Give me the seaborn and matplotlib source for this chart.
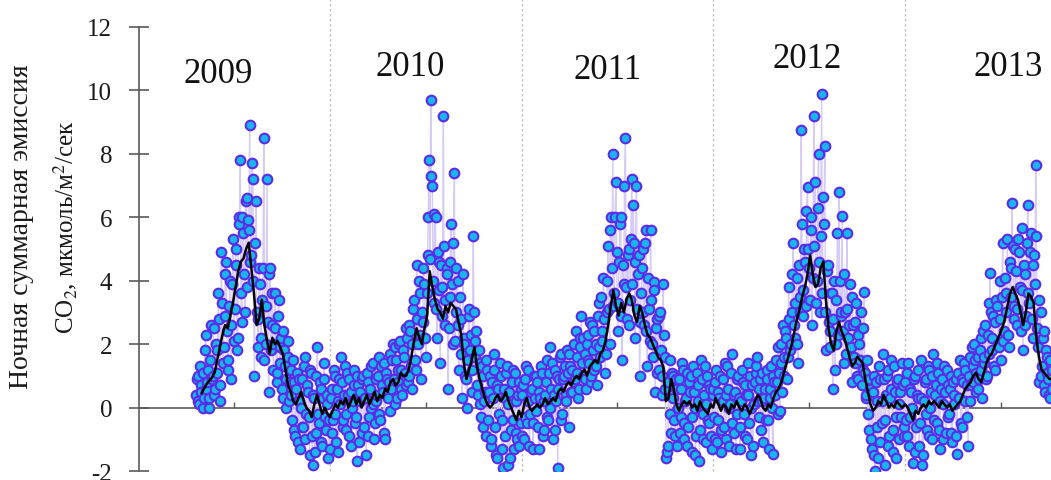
import matplotlib
matplotlib.use("Agg")
import numpy as np
import pandas as pd
import seaborn as sns
import matplotlib.pyplot as plt

# ---------------- data ----------------
# nightly CO2 emission; two interleaved sets per year, each one value every 3 days
start_2009 = "2009-04-21"
emis_2009 = [0.4, 1.0, 0.1, 0.7, 1.1, 0.3, 2.3, 0.8, 0.0, 1.5,
             0.9, 2.5, 0.6, 1.8, 3.6, 0.2, 4.9, 1.4, 2.9, 4.6,
             1.2, 3.2, 0.9, 3.9, 2.1, 5.0, 1.8, 6.0, 7.8, 2.7,
             5.5, 3.0, 6.6, 5.9, 8.9, 4.8, 7.2, 1.0, 6.5, 2.8,
             4.4, 1.6, 3.4, 8.5, 2.0, 7.2, 0.5, 4.4, 2.6, 1.2,
             3.6, 0.8, 2.9, 1.4, 2.2, 0.3, 1.8, 0.9, 2.1, 0.2,
             1.2, -0.4, 0.8, -0.9, 1.1, 0.2, -1.3, 0.9, -0.6, 1.6,
             -0.2, 0.5, -1.5, 1.1, -1.8, 0.3, -0.8, 1.9, -0.5, 0.6,
             -1.2, 0.9, -0.3, 0.4, -1.6]
start_2009b = "2009-04-22"
emis_2009b = [0.9, 0.2, 1.3, 0.5, 0.0, 1.8, 0.6, 1.2, 0.3, 2.6,
              1.0, 0.4, 2.0, 1.1, 2.8, 0.7, 3.3, 1.9, 4.2, 2.4,
              1.5, 4.0, 2.6, 5.3, 3.1, 4.5, 2.2, 5.8, 3.6, 6.0,
              4.2, 6.5, 3.8, 5.6, 4.6, 7.7, 4.0, 5.2, 3.0, 1.9,
              3.9, 2.2, 4.4, 1.5, 3.2, 2.7, 4.2, 1.8, 3.6, 2.0,
              2.5, 1.1, 3.4, 1.9, 0.6, 2.4, 1.3, 0.0, 1.6, 0.8,
              0.4, 1.5, -0.7, 0.6, -1.1, 0.9, 0.0, -0.6, 1.3, -1.0,
              0.7, -0.3, 1.2, -0.9, 0.4, -1.4, 1.0, -0.2, 0.8, -1.1,
              0.3, 1.4, -0.7, 0.1, -0.4]
start_2010 = "2010-01-01"
emis_2010 = [-1.3, 0.6, -0.4, 1.0, -1.1, 0.2, 0.9, 1.6, -0.6, 0.4,
             -0.2, 1.1, -0.9, 0.5, 0.0, 1.2, -0.5, -1.7, 0.7, 0.2,
             -0.8, 1.0, 0.3, -1.5, 0.8, -0.3, 1.3, 0.1, -1.0, 0.9,
             0.4, 1.6, -0.4, 0.7, 1.4, -1.0, 0.9, 0.3, 1.7, 0.6,
             2.0, 0.1, 1.5, 0.8, 2.0, 1.2, 0.4, 1.6, 0.7, 2.2,
             1.0, 2.4, 0.6, 3.1, 1.5, 4.5, 2.0, 3.6, 0.9, 2.7,
             3.9, 1.6, 4.8, 7.8, 9.7, 7.0, 3.3, 6.0, 2.2, 4.6,
             1.4, 3.8, 9.2, 2.6, 4.4, 0.6, 3.5, 5.8, 2.0, 7.4,
             3.0, 4.0, 1.2, 2.8, 0.3, 2.2, 1.0, 0.0, 2.9, 1.8,
             0.5, 5.4, 1.6, 2.4, 0.4, 1.4, -0.3, 1.0, 0.2, -0.9,
             1.2, 0.5, -1.2, 0.8, 1.7, -0.6, -1.6, 0.6, 1.4, -0.4,
             -1.9, 0.3, 1.1, -1.8, 0.5, -0.7, 1.2, -1.3, 0.2, -1.0,
             0.8, -0.5]
start_2010b = "2010-01-02"
emis_2010b = [0.3, -0.8, 1.2, -0.2, 0.6, -1.4, 0.1, 0.8, -0.4, 1.3,
              -0.7, 0.4, 0.9, -1.2, 0.2, 0.7, -0.3, 1.0, -1.1, 0.5,
              0.9, -0.6, 0.3, 1.1, -0.9, 0.6, 0.0, 1.4, -0.5, 0.2,
              1.0, -0.2, 1.3, 0.5, -0.8, 1.1, 0.4, 0.8, -0.1, 1.5,
              0.9, 1.9, 0.3, 1.2, 2.1, 0.6, 1.8, 1.1, 2.5, 0.8,
              2.6, 1.3, 2.0, 3.4, 1.2, 2.8, 4.0, 2.3, 3.0, 4.4,
              2.2, 3.6, 6.0, 4.7, 7.3, 4.0, 6.1, 3.1, 4.9, 3.7,
              4.5, 2.9, 5.1, 3.4, 4.2, 2.5, 4.6, 3.9, 5.2, 2.1,
              4.4, 2.6, 3.5, 1.7, 4.2, 2.0, 0.9, 1.5, 3.1, 2.3,
              1.2, 3.0, 2.1, 0.7, 1.8, 0.1, 1.3, -0.6, 0.5, 1.5,
              -0.4, 1.0, -1.0, 0.3, 1.2, -1.5, 0.7, -0.2, 1.0, -1.3,
              0.6, -0.9, 1.3, 0.1, -1.6, 0.8, -0.4, 1.1, -0.8, 0.4,
              -1.2, 0.6]
start_2011 = "2011-01-01"
emis_2011 = [-0.9, 0.7, -0.3, 1.3, 0.2, -1.2, 0.5, -0.5, 1.0, -0.1,
             0.8, -1.3, 0.3, 1.1, -0.7, 0.4, 1.5, -0.4, 1.9, 0.6,
             -1.0, 1.2, 0.2, -1.9, 0.9, 1.7, -0.2, 1.0, 0.4, 1.8,
             -0.6, 1.3, 0.5, 2.0, 0.9, 1.6, 0.3, 2.2, 2.9, 1.0,
             1.7, 0.6, 2.3, 1.4, 0.8, 2.6, 1.2, 2.0, 0.7, 3.3,
             1.6, 2.4, 4.1, 1.1, 3.0, 5.1, 2.0, 6.0, 8.0, 3.6,
             7.1, 2.4, 4.6, 6.0, 1.5, 3.9, 8.5, 2.8, 5.0, 3.4,
             7.2, 6.4, 2.2, 7.0, 4.2, 1.0, 3.6, 5.0, 2.6, 5.6,
             1.3, 3.1, 5.6, 2.0, 3.95, 0.5, 2.8, 1.2, 3.0, 0.4,
             3.9, 1.6, -1.6, -1.2, 1.5, -0.8, 1.0, -0.4, 0.6, -1.2,
             0.9, -0.3, 1.4, -1.0, 0.2, 1.1, -0.6, 0.5, -1.4, 1.3,
             0.0, -0.9, 0.7, -1.7, 1.5, -0.2, 0.4, -1.1, 1.0, -0.5,
             0.6, -1.3]
start_2011b = "2011-01-02"
emis_2011b = [0.4, -1.0, 0.9, -0.5, 1.2, -0.2, 0.6, -1.3, 0.3, 1.0,
              -0.6, 0.5, 1.3, -0.9, 0.2, 0.8, -0.3, 1.1, 0.0, 1.4,
              0.4, -0.7, 1.0, 0.6, 1.6, -0.4, 0.9, 1.3, 0.2, 1.1,
              1.7, 0.5, 1.2, 0.8, 2.4, 1.1, 0.6, 1.9, 1.4, 2.2,
              0.9, 2.0, 1.5, 2.7, 1.0, 1.8, 2.4, 1.3, 2.9, 1.9,
              3.5, 2.1, 2.8, 1.7, 4.0, 3.1, 5.6, 4.4, 3.2, 6.0,
              4.9, 3.3, 5.8, 2.9, 4.5, 7.0, 3.8, 4.8, 2.6, 5.3,
              3.9, 5.2, 4.6, 3.1, 4.8, 2.7, 4.4, 3.0, 5.2, 2.4,
              4.1, 2.1, 3.4, 1.6, 3.7, 2.5, 1.1, 2.9, 1.8, 1.0,
              2.3, 0.6, -1.4, 0.8, -0.2, 1.1, 0.3, -0.9, 0.9, 0.0,
              -0.8, 0.6, 1.2, -0.5, 0.3, -1.2, 0.8, 1.0, -0.3, 0.5,
              -1.5, 1.1, 0.2, -0.7, 0.9, -1.0, 1.3, 0.1, -0.4, 0.7,
              -0.9, 0.4]
start_2012 = "2012-01-01"
emis_2012 = [0.6, -1.0, 1.2, -0.4, 0.3, -1.4, 0.9, -0.6, 0.4, 1.3,
             -1.2, 0.1, 1.7, -0.8, 0.5, -0.2, 1.0, -1.3, 0.2, 0.8,
             -0.9, 0.4, 1.4, -0.5, -1.5, 0.7, 0.1, 1.1, 1.6, -0.3,
             0.9, 0.2, -1.1, 0.6, 1.2, -0.4, 0.3, 1.3, -1.45, 0.8,
             1.5, -0.2, 1.1, 2.0, 0.5, 1.6, 2.4, 0.9, 3.8, 1.8,
             3.0, 5.2, 2.2, 4.1, 1.4, 3.5, 8.75, 2.9, 5.0, 3.2,
             6.95, 4.4, 5.6, 2.6, 9.2, 7.1, 4.0, 8.0, 3.0, 9.9,
             6.65, 8.25, 1.8, 4.5, 2.4, 3.6, 0.6, 4.0, 2.0, 5.5,
             6.8, 2.9, 6.05, 1.4, 3.0, 5.5, 2.2, 3.9, 0.8, 2.6,
             1.4, 3.3, 0.9, 2.0, 3.0, 1.2, 3.65, 0.3, 1.5, -0.7,
             0.6, -1.3, 1.0, -2.0, 0.2, -1.6, 0.9, -0.5, 1.7, -1.8,
             0.4, 1.2, -0.9, 0.6, -1.4, 1.3, -0.3, 0.8, -1.0, 0.5,
             1.4, -0.6]
start_2012b = "2012-01-02"
emis_2012b = [-0.3, 0.8, -1.1, 0.5, 1.0, -0.7, 0.2, 1.4, -1.0, 0.6,
              0.0, 1.1, -0.5, 0.4, -1.3, 0.9, 0.3, -0.6, 1.2, -0.2,
              0.7, -1.0, 0.4, 1.0, 0.0, -1.2, 0.8, 1.3, 0.2, 0.6,
              -0.7, 1.1, 0.3, -0.4, 0.9, -1.3, 0.6, 0.0, 1.0, 0.4,
              0.8, 1.9, -0.1, 1.4, 2.6, 1.0, 2.2, 1.6, 2.8, 2.0,
              4.2, 2.6, 3.3, 2.0, 4.5, 3.0, 5.8, 3.7, 4.6, 6.2,
              5.0, 3.4, 6.0, 4.1, 5.1, 3.3, 6.3, 4.6, 5.4, 3.6,
              5.8, 3.0, 4.3, 2.7, 1.9, 3.6, 2.8, 1.2, 3.4, 2.3,
              4.0, 3.0, 2.4, 4.2, 1.7, 3.1, 2.6, 1.9, 3.5, 1.6,
              2.7, 1.0, 2.3, 1.5, 0.7, 2.5, 1.1, 0.4, -0.2, 0.9,
              -1.0, 0.5, -1.5, 0.8, -0.6, 1.3, -1.1, 0.2, 0.9, -0.4,
              1.0, -1.2, 0.3, 1.5, -0.7, 0.5, -1.6, 0.9, 0.1, -0.3,
              0.7, -0.9]
start_2013 = "2013-01-01"
emis_2013 = [0.8, -0.9, 1.4, -0.3, 0.5, -1.75, 1.0, -0.6, 0.3, -1.2,
             1.5, -1.8, 0.2, 0.9, -0.7, 1.2, 0.0, -1.0, 1.7, 0.4,
             -0.5, 1.1, -1.3, 0.6, 0.1, 1.3, -0.8, 0.7, -0.2, 1.0,
             -1.1, 0.4, 0.9, -1.45, 0.3, 1.5, -0.6, 0.8, 1.2, -0.3,
             -1.2, 1.6, 0.7, 1.3, 2.0, 0.5, 1.6, 0.9, 2.2, 0.3,
             1.4, 2.6, 1.0, 3.3, 4.25, 1.8, 2.9, 1.2, 3.4, 2.0,
             4.0, 1.5, 5.2, 2.4, 3.6, 5.3, 1.9, 4.4, 6.45, 3.2,
             5.0, 2.6, 5.3, 3.8, 5.65, 1.8, 4.2, 2.9, 6.4, 3.3,
             5.5, 2.2, 4.8, 7.65, 2.5, 0.8, 3.0, 1.3, 2.4, 0.5,
             1.6, 0.9, 0.3, 1.2]
start_2013b = "2013-01-02"
emis_2013b = [-0.4, 1.1, -1.2, 0.6, 0.0, 0.9, -1.4, 0.4, 1.2, -0.5,
              0.3, -1.5, 0.8, -0.2, 1.3, -0.9, 0.5, 1.0, -0.4, 0.7,
              1.4, -0.7, 0.2, 0.9, -1.0, 0.5, 1.2, -0.3, 0.6, -0.8,
              0.8, 0.1, -0.9, 1.1, 0.3, -0.5, 0.9, 1.4, 0.2, 0.7,
              1.0, 0.2, 1.9, 0.8, 1.5, 1.1, 0.6, 1.8, 1.2, 2.4,
              1.6, 0.9, 2.3, 1.7, 3.0, 2.2, 1.3, 2.7, 3.2, 1.9,
              2.8, 3.5, 2.1, 4.1, 3.0, 2.3, 4.6, 3.5, 5.1, 2.8,
              4.3, 3.1, 4.9, 2.4, 3.7, 4.5, 2.6, 5.2, 3.6, 4.9,
              2.8, 4.5, 3.9, 5.4, 1.9, 3.4, 1.0, 2.2, 0.7, 1.8,
              1.1, 0.4, 1.5, 0.6]

# moving average (black line), one value every 5 days
ma_start_2009 = "2009-05-01"
ma_2009 = [0.45, 0.6, 0.75, 0.85, 0.95, 1.1, 1.5, 1.9, 2.3, 2.6,
           2.5, 2.9, 3.3, 3.8, 4.3, 4.6, 4.7, 5.0, 5.2, 4.4,
           3.6, 2.6, 2.8, 3.4, 2.6, 2.1, 1.7, 2.2, 2.0, 2.1,
           1.9, 1.7, 1.2, 0.7, 0.5, 0.2, 0.1, 0.3, 0.5, 0.2,
           0.0, -0.1, -0.3, 0.1, 0.4, 0.1, -0.2, 0.0, -0.2]
ma_2010 = [-0.3, -0.1, 0.1, 0.0, 0.2, 0.1, 0.3, 0.0, 0.2, 0.4,
           0.1, 0.3, 0.0, 0.2, 0.4, 0.1, 0.3, 0.5, 0.2, 0.4,
           0.3, 0.6, 0.5, 0.8, 0.9, 0.7, 0.8, 1.1, 1.0, 1.0,
           1.2, 1.6, 2.1, 2.5, 2.2, 2.0, 2.5, 2.9, 4.3, 3.8,
           3.4, 3.1, 3.0, 2.8, 3.2, 3.0, 3.3, 3.2, 3.1, 2.7,
           2.3, 1.4, 0.9, 1.2, 1.5, 1.9, 1.3, 0.9, 0.6, 0.3,
           0.1, 0.0, 0.1, 0.3, 0.4, 0.2, 0.3, 0.5, 0.2, 0.0,
           -0.2, -0.4, -0.1]
ma_2011 = [-0.3, 0.1, 0.3, 0.0, -0.1, 0.0, 0.1, 0.0, 0.1, 0.3,
           0.1, 0.2, 0.3, 0.2, 0.5, 0.6, 0.5, 0.7, 0.8, 0.7,
           0.9, 1.0, 0.9, 1.1, 1.2, 1.0, 1.3, 1.4, 1.5, 1.4,
           1.7, 1.8, 2.1, 2.6, 3.2, 3.7, 3.2, 2.9, 3.3, 3.0,
           3.4, 3.6, 3.4, 2.9, 2.7, 3.2, 3.0, 2.6, 2.3, 2.2,
           2.0, 1.8, 1.6, 1.5, 1.3, 0.2, 0.3, 0.9, 0.6, 0.1,
           -0.1, 0.1, 0.2, 0.1, 0.2, 0.0, 0.1, -0.1, 0.2, 0.0,
           -0.1, -0.2, 0.1]
ma_2012 = [0.0, 0.3, 0.1, -0.1, 0.1, 0.0, -0.2, 0.1, 0.0, 0.2,
           0.0, -0.1, 0.1, 0.0, -0.2, 0.0, 0.2, 0.4, 0.3, 0.0,
           -0.1, 0.1, 0.0, 0.3, 0.5, 0.6, 0.8, 1.1, 1.4, 1.7,
           2.0, 2.4, 2.8, 3.1, 3.5, 3.8, 4.2, 4.8, 4.2, 3.8,
           3.9, 4.4, 4.6, 3.4, 2.5, 2.0, 1.8, 2.4, 2.7, 2.4,
           2.2, 1.9, 1.6, 1.3, 1.4, 1.6, 1.5, 1.4, 0.9, 0.5,
           0.1, -0.1, 0.0, 0.2, 0.1, 0.4, 0.2, 0.0, 0.1, 0.0,
           0.2, 0.1, 0.0]
ma_2013 = [0.1, 0.0, -0.2, -0.4, -0.1, -0.2, 0.0, 0.1, 0.0, 0.2,
           0.1, 0.2, 0.1, 0.0, 0.2, 0.1, 0.0, 0.1, -0.1, 0.0,
           0.1, 0.2, 0.4, 0.6, 0.7, 0.8, 1.0, 1.1, 0.9, 0.8,
           1.1, 1.4, 1.6, 1.7, 1.9, 2.1, 2.3, 2.5, 2.8, 3.2,
           3.6, 3.8, 3.6, 3.4, 3.0, 2.6, 3.0, 3.6, 3.5, 3.3,
           2.2, 1.6, 1.2, 1.1, 1.0, 0.9, 0.9]

year_labels = ["2009", "2010", "2011", "2012", "2013"]
y_ticks = [-2, 0, 2, 4, 6, 8, 10, 12]
ylabel_line1 = "Ночная суммарная эмиссия"
ylabel_line2 = "CO$_2$, мкмоль/м$^2$/сек"


def frame(start, step, vals):
    return pd.DataFrame({"date": pd.date_range(start, periods=len(vals), freq=f"{step}D"),
                         "value": vals})


pts = pd.concat([frame(start_2009, 3, emis_2009), frame(start_2009b, 3, emis_2009b),
                 frame(start_2010, 3, emis_2010), frame(start_2010b, 3, emis_2010b),
                 frame(start_2011, 3, emis_2011), frame(start_2011b, 3, emis_2011b),
                 frame(start_2012, 3, emis_2012), frame(start_2012b, 3, emis_2012b),
                 frame(start_2013, 3, emis_2013), frame(start_2013b, 3, emis_2013b)],
                ignore_index=True).sort_values("date").reset_index(drop=True)
ma = pd.concat([frame(ma_start_2009, 5, ma_2009), frame("2010-01-01", 5, ma_2010),
                frame("2011-01-01", 5, ma_2011), frame("2012-01-01", 5, ma_2012),
                frame("2013-01-01", 5, ma_2013)], ignore_index=True)

# ---------------- style ----------------
sns.set_theme(style="white")
plt.rcParams["font.family"] = ["Liberation Serif", "DejaVu Serif"]
plt.rcParams["mathtext.fontset"] = "stix"
plt.rcParams["axes.unicode_minus"] = False

fig = plt.figure(figsize=(10.51, 4.81), dpi=100)
ax = fig.add_axes([0.1318, 0.0187, 0.8682, 0.9231])
ax.set_facecolor("none")

t0 = pd.Timestamp("2009-01-01")

sns.lineplot(data=pts, x="date", y="value", color="#D6CAF6", lw=1.0,
             estimator=None, sort=True, ax=ax, zorder=2)
sns.scatterplot(data=pts, x="date", y="value", s=48, color="#17B5EE",
                edgecolor="#5A2BE8", linewidth=1.5, ax=ax, zorder=3)
sns.lineplot(data=ma, x="date", y="value", color="black", lw=1.8,
             estimator=None, ax=ax, zorder=4)

# year separators
for yr in year_labels[1:]:
    ax.axvline(pd.Timestamp(f"{yr}-01-01"), ymin=0, ymax=1.063, color="#BDBDBD",
               lw=0.9, ls=(0, (2, 2)), clip_on=False, zorder=1)

# year labels
label_pos = [(151, 10.54), (517, 10.77), (893, 10.65), (1274, 11.0), (1657, 10.77)]
for txt, (d, yv) in zip(year_labels, label_pos):
    ax.text(t0 + pd.Timedelta(days=d), yv, txt, fontsize=25, ha="center",
            va="center", color="#111111")

ax.set_xlim(t0, t0 + pd.Timedelta(days=1739))
ax.set_ylim(-2, 12)
ax.set_yticks(y_ticks)
ax.set_yticklabels([str(v) for v in y_ticks])
ax.set_xticks([pd.Timestamp(f"{yr}-07-02") for yr in year_labels])
ax.set_xticklabels([])
ax.set_xlabel("")

for s in ["top", "right"]:
    ax.spines[s].set_visible(False)
ax.spines["bottom"].set_position(("data", 0))
for s in ["left", "bottom"]:
    ax.spines[s].set_color("#5A5A5A")
    ax.spines[s].set_linewidth(1.2)
ax.spines["bottom"].set_zorder(1.5)

ax.tick_params(axis="y", direction="inout", length=14, width=1.2, color="#5A5A5A",
               labelsize=18, pad=12, labelcolor="#1A1A1A", left=True)
ax.tick_params(axis="x", direction="in", length=4, width=1.0, color="#5A5A5A",
               bottom=True)

# two-line y label: first line as the axis label, second line as rotated text
ax.set_ylabel(ylabel_line1, fontsize=20, color="#1A1A1A")
ax.yaxis.label.set_va("center")
ax.yaxis.set_label_coords(-0.1277, 0.552)
ax.text(-0.0805, 0.552, ylabel_line2, transform=ax.transAxes, rotation=90,
        ha="center", va="center", rotation_mode="anchor", fontsize=18,
        color="#1A1A1A")

fig.savefig("out.png", dpi=100)
